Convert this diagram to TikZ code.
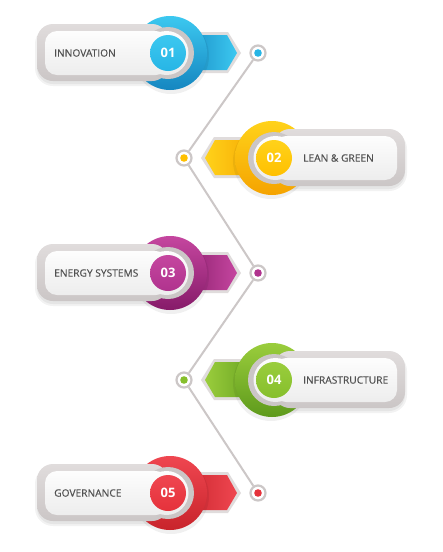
\documentclass[tikz,border=0pt]{standalone}
\usepackage{fontspec}
\setmainfont{Open Sans}
\newfontfamily\labelfont[FakeBold=0.35]{Open Sans}
\definecolor{blueM}{HTML}{27B5E5}\definecolor{blueD}{HTML}{1586C0}\definecolor{blueL}{HTML}{3CC8F0}
\definecolor{yelM}{HTML}{FFC000}\definecolor{yelD}{HTML}{F5A300}\definecolor{yelL}{HTML}{FFD21A}
\definecolor{purM}{HTML}{B0338E}\definecolor{purD}{HTML}{861B69}\definecolor{purL}{HTML}{C5469F}
\definecolor{grnM}{HTML}{86BF2C}\definecolor{grnD}{HTML}{5E9A1C}\definecolor{grnL}{HTML}{9ACD3C}
\definecolor{redM}{HTML}{E5323B}\definecolor{redD}{HTML}{C8242B}\definecolor{redL}{HTML}{EF4650}
\definecolor{frameG}{HTML}{E0DCDC}\definecolor{frameD}{HTML}{CBC6C6}
\definecolor{lineG}{HTML}{CCC7C7}\definecolor{labelG}{HTML}{515151}
\definecolor{panelL}{HTML}{FDFDFD}\definecolor{panelD}{HTML}{EDEDED}
\tikzset{
  dotnode/.style={circle,minimum size=15pt,inner sep=0pt,draw=lineG,line width=2.2pt,fill=white},
  labeltext/.style={font=\labelfont\fontsize{10.2}{12}\selectfont,text=labelG,inner sep=0pt},
  numtext/.style={font=\fontsize{13}{15}\selectfont\bfseries,text=white,inner sep=0pt},
  connector/.style={draw=lineG,line width=2pt},
}
% #1 direction, #2 cx, #3 cy, #4 colour prefix, #5 label, #6 number, #7 index
\newcommand\stepitem[7]{%
  \ifnum#1>0 \def\bl{#4D}\def\br{#4L}\else\def\bl{#4L}\def\br{#4D}\fi
  % soft shadow
  \fill[black,opacity=0.05,rounded corners=18pt] ({#2-(#1)*133},#3-27) rectangle ({#2+(#1)*30},#3+33);
  \fill[black,opacity=0.05,rounded corners=16pt] ({#2-(#1)*131},#3-27) rectangle ({#2+(#1)*28},#3+31);
  % banner
  \fill[frameG] ({#2+(#1)*10},#3-21) -- ({#2+(#1)*60},#3-21) -- ({#2+(#1)*73},#3) -- ({#2+(#1)*60},#3+20) -- ({#2+(#1)*10},#3+20) -- cycle;
  \shade[left color=\bl,right color=\br] ({#2+(#1)*10},#3-18) -- ({#2+(#1)*59},#3-18) -- ({#2+(#1)*69},#3) -- ({#2+(#1)*59},#3+17) -- ({#2+(#1)*10},#3+17) -- cycle;
  % big circle
  \fill[black,opacity=0.06] ({#2+(#1)*3},#3+3) circle (38);
  \shade[top color=#4L,bottom color=#4D] ({#2+(#1)*2},#3) circle (37);
  % frame
  \shade[top color=frameG,bottom color=frameD,rounded corners=16pt] ({#2-(#1)*131},#3-29) rectangle (#2,#3+28);
  \fill[frameD] (#2,#3) circle (26);
  % panel
  \shade[top color=panelL,bottom color=panelD,rounded corners=12pt] ({#2-(#1)*123},#3-22) rectangle (#2,#3+22);
  \shade[top color=panelL,bottom color=panelD] ({#2-(#1)*1.5},#3) circle (22);
  % number circle
  \shade[top color=#4L,bottom color=#4M] (#2,#3) circle (18);
  \node[numtext] (n#7) at (#2,#3) {#6};
  \ifnum#1>0
    \node[labeltext,anchor=west] (t#7) at ({#2-114},#3) {#5};
  \else
    \node[labeltext,anchor=west] (t#7) at ({#2+29},#3) {#5};
  \fi
  \node[dotnode] (d#7) at ({#2+(#1)*90},#3) {};
  \fill[#4M] (d#7.center) circle (3.8);
}
\begin{document}
\begin{tikzpicture}[x=1pt,y=-1pt]
\useasboundingbox (0,0) rectangle (443,552);
\fill[white] (0,0) rectangle (443,552);
\stepitem{1}{168}{53}{blue}{INNOVATION}{01}{1}
\stepitem{-1}{274}{158}{yel}{LEAN \& GREEN}{02}{2}
\stepitem{1}{168}{273}{pur}{ENERGY SYSTEMS}{03}{3}
\stepitem{-1}{274}{380}{grn}{INFRASTRUCTURE}{04}{4}
\stepitem{1}{168}{493}{red}{GOVERNANCE}{05}{5}
\draw[connector] (d1) -- (d2);
\draw[connector] (d2) -- (d3);
\draw[connector] (d3) -- (d4);
\draw[connector] (d4) -- (d5);
\end{tikzpicture}
\end{document}
